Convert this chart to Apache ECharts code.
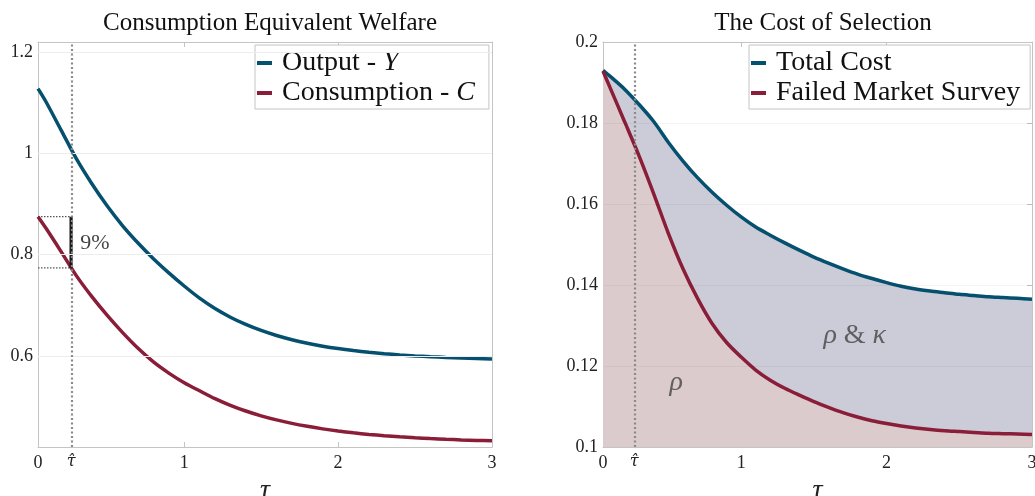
<!DOCTYPE html>
<html><head><meta charset="utf-8">
<script src="https://cdn.jsdelivr.net/npm/echarts@6/dist/echarts.min.js"></script>
<style>html,body{margin:0;padding:0;background:#fff}#c{width:1035px;height:496px}</style>
</head><body><div id="c"></div>
<script>
const tau = [0.05,0.1,0.2,0.3,0.4,0.5,0.6,0.7,0.8,0.9,1.0,1.1,1.2,1.3,1.4,1.5,1.6,1.7,1.8,1.9,2.0,2.1,2.2,2.3,2.4,2.5,2.6,2.7,2.8,2.9,3.0];
const outputY = [1.128,1.103,1.046,0.989,0.940,0.896,0.857,0.823,0.792,0.764,0.738,0.714,0.6935,0.6764,0.6621,0.6502,0.6402,0.6319,0.6250,0.6192,0.6144,0.6104,0.6070,0.6042,0.6019,0.5999,0.5983,0.5969,0.5958,0.5948,0.5940];
const consumptionC = [0.875,0.853,0.806,0.758,0.717,0.680,0.646,0.615,0.588,0.566,0.547,0.531,0.5155,0.5023,0.4911,0.4816,0.4735,0.4666,0.4608,0.4558,0.4516,0.4480,0.4449,0.4423,0.4401,0.4382,0.4366,0.4352,0.4340,0.4330,0.4322];
const totalCost = [0.1930,0.1915,0.1883,0.1845,0.1803,0.1752,0.1706,0.1665,0.1629,0.1597,0.1568,0.1543,0.1523,0.1504,0.1486,0.1469,0.1454,0.1440,0.1427,0.1416,0.1406,0.1397,0.1390,0.1385,0.1381,0.1377,0.1374,0.1371,0.1369,0.1367,0.1365];
const failedSurvey = [0.1928,0.1886,0.1802,0.1717,0.1624,0.1527,0.1440,0.1367,0.1305,0.1258,0.1222,0.1190,0.1165,0.1145,0.1128,0.1112,0.1098,0.1085,0.1074,0.1065,0.1058,0.1052,0.1047,0.1043,0.1040,0.1038,0.1036,0.1034,0.1033,0.1032,0.1031];
const tauHat = 0.265;
const gapTop = 0.875, gapBottom = 0.774;
const xMin = 0.05, xMax = 3;
const xTickValues = [xMin, tauHat, 1, 2, 3];
const xTickLabels = ['0', '{i|τ̂}', '1', '2', '3'];
const xInnerTicks = [1, 2];
const leftYTicks = [0.6, 0.8, 1, 1.2];
const leftYRange = [0.42, 1.22];
const rightYTicks = [0.1, 0.12, 0.14, 0.16, 0.18, 0.2];
const rightYRange = [0.1, 0.2];
const gapLabel = '9%';
const gapLabelPos = [0.42, 0.822];
const rhoLabelPos = [0.553, 0.1158];
const rhoKappaPos = [1.781, 0.1276];
const titles = ['Consumption Equivalent Welfare', 'The Cost of Selection'];
const names = ['Output - Y', 'Consumption - C', 'Total Cost', 'Failed Market Survey'];

const FONT = 'Liberation Serif';
const BLUE = '#05506e', RED = '#8a1d38';
const AXC = '#c4c4c4';
const zip = (xs, ys) => xs.map((x, i) => [x, ys[i]]);

const chart = echarts.init(document.getElementById('c'), null, {renderer: 'canvas'});

function xLabelFmt(v) {
  const i = xTickValues.findIndex(t => Math.abs(t - v) < 1e-9);
  return i >= 0 ? xTickLabels[i] : '';
}
function mkX(gi, bottom) {
  return {
    type: 'value', gridIndex: gi, min: xMin, max: xMax, position: bottom ? 'bottom' : 'top',
    axisLine: {show: true, lineStyle: {color: AXC, width: 1}},
    axisTick: {show: true, inside: true, length: 5, customValues: xInnerTicks, lineStyle: {color: AXC}},
    axisLabel: bottom ? {show: true, customValues: xTickValues, formatter: xLabelFmt, margin: 7,
      fontFamily: FONT, fontSize: 18, color: '#222',
      rich: {i: {fontFamily: 'DejaVu Serif', fontStyle: 'italic', fontSize: 16, color: '#222'}}} : {show: false},
    splitLine: {show: false},
    name: bottom ? 'τ' : '', nameLocation: 'middle', nameGap: 22,
    nameTextStyle: {fontFamily: FONT, fontStyle: 'italic', fontSize: 28, color: '#222'}
  };
}
function mkY(gi, left, range, ticks) {
  return {
    type: 'value', gridIndex: gi, min: range[0], max: range[1], position: left ? 'left' : 'right',
    axisLine: {show: true, lineStyle: {color: AXC, width: 1}},
    axisTick: {show: true, inside: true, length: 5, customValues: ticks, lineStyle: {color: AXC}},
    axisLabel: left ? {show: true, customValues: ticks, margin: 5, fontFamily: FONT, fontSize: 18, color: '#222',
      formatter: v => String(+v.toFixed(4))} : {show: false},
    splitLine: {show: false}
  };
}
const legendFmt = n => n.replace(/ - (\w)$/, ' - {i|$1}');
const legendText = {fontFamily: FONT, fontSize: 28, color: '#111', lineHeight: 30,
  rich: {i: {fontFamily: FONT, fontStyle: 'italic', fontSize: 28, color: '#111', lineHeight: 30}}};
const textLabel = (pos, fmt, size, xi, yi, color) => ({
  type: 'scatter', xAxisIndex: xi, yAxisIndex: yi, data: [pos], symbolSize: 1,
  itemStyle: {color: 'rgba(0,0,0,0)'}, silent: true, z: 10,
  label: {show: true, position: 'inside', formatter: fmt, fontFamily: FONT, fontSize: size, color: color,
    rich: {i: {fontFamily: FONT, fontStyle: 'italic', fontSize: size, color: color},
           u: {fontFamily: FONT, fontSize: size, color: color}}}
});
const dotted = {color: '#8a8a8a', width: 2.2, type: [2, 2.5]};
const lineBase = {smooth: 0.3, showSymbol: false};

const option = {
  animation: false,
  backgroundColor: '#fff',
  title: [
    {text: titles[0], left: 265, top: 6, textAlign: 'center', textStyle: {fontFamily: FONT, fontWeight: 'normal', fontSize: 25, color: '#111'}},
    {text: titles[1], left: 818, top: 6, textAlign: 'center', textStyle: {fontFamily: FONT, fontWeight: 'normal', fontSize: 25, color: '#111'}}
  ],
  grid: [
    {left: 38, top: 42, width: 454, height: 405, outerBoundsMode: 'none', containLabel: false},
    {left: 603, top: 42, width: 429, height: 405, outerBoundsMode: 'none', containLabel: false}
  ],
  legend: [
    {data: [names[0], names[1]], orient: 'vertical', left: 255, top: 45, itemGap: 0, itemWidth: 15, itemHeight: 4, icon: 'rect',
     padding: [3, 14, 1, 2], borderColor: AXC, borderWidth: 1, backgroundColor: '#fff', formatter: legendFmt,
     textStyle: Object.assign({padding: [0, 0, 0, 5]}, legendText)},
    {data: [names[2], names[3]], orient: 'vertical', left: 749, top: 45, itemGap: 0, itemWidth: 15, itemHeight: 4, icon: 'rect',
     padding: [3, 10, 1, 2], borderColor: AXC, borderWidth: 1, backgroundColor: '#fff', formatter: legendFmt,
     textStyle: Object.assign({padding: [0, 0, 0, 5]}, legendText)}
  ],
  xAxis: [mkX(0, true), mkX(0, false), mkX(1, true), mkX(1, false)],
  yAxis: [mkY(0, true, leftYRange, leftYTicks), mkY(0, false, leftYRange, leftYTicks),
          mkY(1, true, rightYRange, rightYTicks), mkY(1, false, rightYRange, rightYTicks)],
  series: [
    Object.assign({type: 'line', name: names[0], xAxisIndex: 0, yAxisIndex: 0, data: zip(tau, outputY),
     lineStyle: {color: BLUE, width: 3.5}, itemStyle: {color: BLUE}, z: 3,
     markLine: {silent: true, symbol: 'none', label: {show: false},
       data: leftYTicks.filter(t => t < 1.21).map(t => ({yAxis: t, lineStyle: {color: '#ededed', width: 1, type: 'solid'}}))}}, lineBase),
    Object.assign({type: 'line', name: names[1], xAxisIndex: 0, yAxisIndex: 0, data: zip(tau, consumptionC),
     lineStyle: {color: RED, width: 3.5}, itemStyle: {color: RED}, z: 3,
     markLine: {silent: true, symbol: 'none', label: {show: false}, data: [{xAxis: tauHat, lineStyle: dotted}]}}, lineBase),
    {type: 'line', name: 'gapTopLine', xAxisIndex: 0, yAxisIndex: 0, data: [[xMin, gapTop], [tauHat, gapTop]], showSymbol: false, silent: true,
     lineStyle: {color: '#555', width: 1.2, type: [1.5, 1.5]}, z: 2},
    {type: 'line', name: 'gapBottomLine', xAxisIndex: 0, yAxisIndex: 0, data: [[xMin, gapBottom], [tauHat, gapBottom]], showSymbol: false, silent: true,
     lineStyle: {color: '#555', width: 1.2, type: [1.5, 1.5]}, z: 2},
    {type: 'line', name: 'gapBar', xAxisIndex: 0, yAxisIndex: 0, data: [[tauHat, gapBottom], [tauHat, gapTop]], showSymbol: false, silent: true,
     lineStyle: {color: '#1a1a1a', width: 3.2}, z: 4},
    textLabel(gapLabelPos, gapLabel, 22, 0, 0, '#111'),

    Object.assign({type: 'line', name: names[2], xAxisIndex: 2, yAxisIndex: 2, data: zip(tau, totalCost),
     lineStyle: {color: BLUE, width: 3.5}, itemStyle: {color: BLUE}, z: 3,
     areaStyle: {color: '#cbccd8', opacity: 1, origin: 'start'}}, lineBase),
    Object.assign({type: 'line', name: names[3], xAxisIndex: 2, yAxisIndex: 2, data: zip(tau, failedSurvey),
     lineStyle: {color: RED, width: 3.5}, itemStyle: {color: RED}, z: 4,
     areaStyle: {color: '#dbcbcc', opacity: 1, origin: 'start'},
     markLine: {silent: true, symbol: 'none', label: {show: false}, data: [
       ...rightYTicks.filter(t => t > 0.1 && t < 0.2).map(t => ({yAxis: t, lineStyle: {color: 'rgba(0,0,0,0.045)', width: 1, type: 'solid'}})),
       {xAxis: tauHat, lineStyle: dotted}
     ]}}, lineBase),
    textLabel(rhoLabelPos, '{i|ρ}', 28, 2, 2, '#444'),
    textLabel(rhoKappaPos, '{i|ρ} {u|&} {i|κ}', 28, 2, 2, '#444')
  ]
};
chart.setOption(option);
</script></body></html>
